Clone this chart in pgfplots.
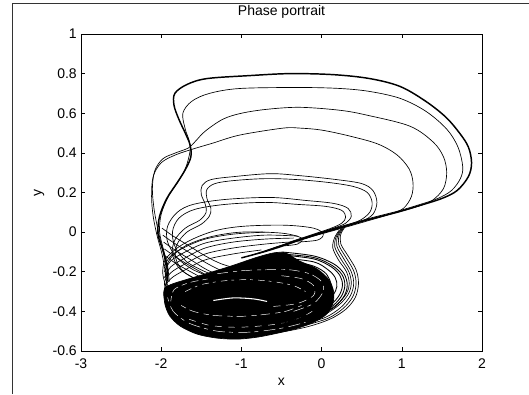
\documentclass[border=0pt]{standalone}
\usepackage{fontspec}
\setmainfont{Liberation Sans}
\usepackage{pgfplots}
\pgfplotsset{compat=1.18}
\pgfplotsset{
  traj/.style={black, line width=0.5pt, smooth, tension=0.55, mark=none},
  streak/.style={white, line width=0.35pt, smooth, mark=none},
}
\begin{document}
\begin{tikzpicture}
\useasboundingbox (-60.75pt,-32.25pt) rectangle (336pt,263.25pt);
\draw[line width=0.6pt, black!80] (-51.75pt,-32.25pt) -- (-51.75pt,261pt) -- (336pt,261pt);
\begin{axis}[
  at={(0,0)}, anchor=south west,
  scale only axis, width=300.75pt, height=237.75pt,
  xmin=-3, xmax=2, ymin=-0.6, ymax=1,
  xtick={-3,-2,-1,0,1,2},
  ytick={-0.6,-0.4,-0.2,0,0.2,0.4,0.6,0.8,1},
  xticklabels={-3,-2,-1,0,1,2},
  yticklabels={-0.6,-0.4,-0.2,0,0.2,0.4,0.6,0.8,1},
  tick align=inside, major tick length=3pt,
  tick style={black, line width=0.4pt},
  axis line style={black, line width=0.5pt},
  ticklabel style={font=\fontsize{10.5}{11}\selectfont},
  xticklabel style={anchor=base, yshift=-13pt},
  yticklabel style={anchor=east, inner sep=0pt, xshift=-3pt},
  title={Phase portrait},
  title style={font=\fontsize{10.5}{12}\selectfont, at={(0.5,1)}, anchor=base, yshift=8.25pt},
  xlabel={x},
  xlabel style={font=\fontsize{10.5}{12}\selectfont, at={(axis description cs:0.5,0)}, anchor=base, yshift=-25.5pt},
  ylabel={y},
  ylabel style={font=\fontsize{10.5}{12}\selectfont, at={(axis description cs:-0.1047,0.5)}, anchor=center},
]
% ---- outer loop A (bundle) ----
\addplot[traj, line width=1.1pt] coordinates {(-1.0,-0.13) (-0.64,-0.09) (-0.27,-0.04) (0.0,-0.005) (0.3,0.03) (0.6,0.065) (0.94,0.10) (1.23,0.135) (1.5,0.17) (1.69,0.21) (1.83,0.28) (1.87,0.35) (1.83,0.43) (1.72,0.50) (1.55,0.58) (1.3,0.66) (0.98,0.735) (0.6,0.775) (0.14,0.795) (-0.4,0.80) (-0.9,0.79) (-1.43,0.775) (-1.68,0.745) (-1.83,0.70) (-1.84,0.64) (-1.78,0.57) (-1.70,0.50) (-1.64,0.44) (-1.63,0.38) (-1.70,0.315) (-1.80,0.25) (-1.93,0.17) (-2.02,0.08) (-2.04,-0.01) (-1.98,-0.09) (-1.93,-0.17) (-1.92,-0.25)};
% ---- loop B ----
\addplot[traj] coordinates {(-0.9,-0.12) (-0.64,-0.085) (-0.27,-0.035) (0.0,0.0) (0.3,0.035) (0.6,0.07) (0.94,0.105) (1.23,0.14) (1.45,0.17) (1.62,0.21) (1.73,0.27) (1.76,0.33) (1.70,0.43) (1.56,0.52) (1.3,0.61) (0.98,0.675) (0.6,0.71) (0.23,0.725) (-0.27,0.73) (-1.02,0.725) (-1.4,0.70) (-1.62,0.66) (-1.73,0.60) (-1.70,0.52) (-1.65,0.46) (-1.64,0.41) (-1.69,0.33) (-1.78,0.26) (-1.91,0.18) (-2.0,0.09) (-2.02,0.0) (-1.97,-0.09) (-1.92,-0.17) (-1.9,-0.25)};
% ---- loop C ----
\addplot[traj] coordinates {(-0.8,-0.11) (-0.5,-0.07) (-0.27,-0.04) (0.0,-0.005) (0.3,0.03) (0.6,0.065) (0.94,0.10) (1.2,0.13) (1.38,0.16) (1.52,0.22) (1.56,0.30) (1.52,0.38) (1.39,0.455) (1.1,0.535) (0.57,0.59) (0.23,0.615) (-0.27,0.63) (-0.68,0.62) (-1.0,0.60) (-1.23,0.57) (-1.45,0.51) (-1.57,0.46) (-1.66,0.425) (-1.82,0.40) (-1.98,0.37) (-2.08,0.31) (-2.11,0.22) (-2.09,0.12) (-2.05,0.03) (-2.0,-0.06) (-1.95,-0.15) (-1.93,-0.24)};
% ---- loop D ----
\addplot[traj] coordinates {(-0.7,-0.095) (-0.4,-0.055) (-0.1,-0.02) (0.3,0.025) (0.6,0.06) (0.85,0.09) (1.02,0.12) (1.12,0.18) (1.14,0.25) (1.09,0.32) (0.94,0.39) (0.7,0.445) (0.35,0.485) (0.0,0.515) (-0.27,0.525) (-0.48,0.525) (-1.02,0.49) (-1.35,0.45) (-1.6,0.42) (-1.82,0.39) (-2.0,0.35) (-2.1,0.28) (-2.12,0.18) (-2.1,0.08) (-2.05,-0.02) (-1.99,-0.11) (-1.95,-0.2) (-1.93,-0.27)};
% ---- loop E ----
\addplot[traj] coordinates {(-0.6,-0.08) (-0.3,-0.04) (0.0,-0.005) (0.3,0.03) (0.5,0.055) (0.64,0.09) (0.69,0.15) (0.64,0.21) (0.5,0.245) (0.19,0.265) (-0.27,0.285) (-0.64,0.295) (-1.10,0.28) (-1.38,0.265) (-1.49,0.235) (-1.50,0.19) (-1.45,0.14) (-1.44,0.10) (-1.52,0.06) (-1.70,0.02) (-1.83,-0.04) (-1.86,-0.11) (-1.78,-0.18) (-1.6,-0.23) (-1.4,-0.26)};
\addplot[traj] coordinates {(-0.5,-0.07) (0.0,0.0) (0.3,0.035) (0.48,0.06) (0.60,0.10) (0.63,0.15) (0.57,0.20) (0.4,0.23) (0.1,0.25) (-0.3,0.265) (-0.7,0.27) (-1.1,0.26) (-1.33,0.245) (-1.43,0.215) (-1.43,0.17) (-1.38,0.12) (-1.40,0.08) (-1.5,0.04) (-1.68,0.0) (-1.8,-0.06) (-1.82,-0.13) (-1.72,-0.2) (-1.5,-0.25)};
% ---- loop F ----
\addplot[traj] coordinates {(-0.45,-0.06) (-0.1,-0.015) (0.15,0.02) (0.30,0.045) (0.37,0.08) (0.33,0.12) (0.15,0.145) (-0.2,0.16) (-0.64,0.175) (-1.2,0.165) (-1.6,0.14) (-1.80,0.10) (-1.92,0.03) (-1.92,-0.05) (-1.8,-0.13) (-1.6,-0.19) (-1.35,-0.23)};
\addplot[traj] coordinates {(-0.4,-0.05) (-0.1,-0.01) (0.12,0.02) (0.25,0.045) (0.30,0.075) (0.25,0.11) (0.05,0.13) (-0.3,0.14) (-0.7,0.15) (-1.2,0.14) (-1.58,0.115) (-1.78,0.07) (-1.86,0.0) (-1.82,-0.08) (-1.68,-0.15) (-1.45,-0.2) (-1.25,-0.23)};
% ---- loop G ----
\addplot[traj] coordinates {(-0.3,-0.05) (-0.05,-0.04) (0.02,-0.01) (-0.1,0.02) (-0.46,0.035) (-0.96,0.03) (-1.3,0.01) (-1.58,-0.03) (-1.8,-0.08) (-1.95,-0.14) (-1.98,-0.21) (-1.93,-0.28) (-1.85,-0.33)};
\addplot[traj] coordinates {(-0.5,-0.07) (-0.3,-0.06) (-0.25,-0.03) (-0.5,-0.005) (-1.0,0.0) (-1.4,-0.025) (-1.7,-0.07) (-1.88,-0.13) (-1.95,-0.2) (-1.92,-0.27)};
% ---- lattice: descending ----
\addplot[traj] coordinates {(-1.99,0.02) (-1.85,-0.02) (-1.65,-0.07) (-1.45,-0.12) (-1.25,-0.16) (-1.0,-0.19)};
\addplot[traj] coordinates {(-1.98,-0.015) (-1.84,-0.055) (-1.64,-0.105) (-1.44,-0.155) (-1.24,-0.195) (-1.0,-0.22)};
\addplot[traj] coordinates {(-1.97,-0.05) (-1.83,-0.09) (-1.63,-0.14) (-1.43,-0.19) (-1.23,-0.225)};
\addplot[traj] coordinates {(-1.96,-0.085) (-1.82,-0.125) (-1.62,-0.175) (-1.42,-0.22)};
\addplot[traj] coordinates {(-1.95,-0.12) (-1.81,-0.16) (-1.61,-0.205) (-1.45,-0.24)};
% ---- lattice: ascending ----
\addplot[traj] coordinates {(-1.88,-0.36) (-1.96,-0.29) (-1.88,-0.235) (-1.7,-0.19) (-1.45,-0.14) (-1.1,-0.11) (-0.75,-0.09)};
\addplot[traj] coordinates {(-1.88,-0.33) (-1.96,-0.26) (-1.88,-0.205) (-1.7,-0.16) (-1.45,-0.11) (-1.1,-0.08) (-0.7,-0.06) (-0.4,-0.05)};
\addplot[traj] coordinates {(-1.96,-0.23) (-1.88,-0.175) (-1.7,-0.13) (-1.45,-0.08) (-1.1,-0.05) (-0.7,-0.035) (-0.35,-0.03)};
\addplot[traj] coordinates {(-1.96,-0.20) (-1.88,-0.145) (-1.7,-0.10) (-1.45,-0.055) (-1.1,-0.03) (-0.7,-0.015) (-0.3,-0.02)};
\addplot[traj] coordinates {(-1.96,-0.17) (-1.88,-0.12) (-1.7,-0.075) (-1.45,-0.035) (-1.1,-0.01) (-0.7,0.0)};
% ---- dense core ----
\addplot[black, fill=black, line width=0.5pt, smooth, tension=0.5, mark=none] coordinates {(-1.97,-0.31) (-1.95,-0.37) (-1.89,-0.425) (-1.76,-0.475) (-1.55,-0.515) (-1.3,-0.535) (-1.05,-0.54) (-0.8,-0.53) (-0.55,-0.51) (-0.3,-0.485) (-0.1,-0.455) (0.06,-0.415) (0.14,-0.36) (0.15,-0.30) (0.09,-0.24) (-0.06,-0.185) (-0.28,-0.145) (-0.45,-0.105) (-0.6,-0.105) (-0.83,-0.13) (-1.12,-0.17) (-1.4,-0.205) (-1.65,-0.235) (-1.85,-0.26) (-1.95,-0.28) (-1.97,-0.31)} -- cycle;
% ---- light streaks inside core ----
\addplot[streak, line width=0.8pt] coordinates {(-1.35,-0.345) (-1.1,-0.332) (-0.85,-0.337) (-0.68,-0.35)};
\addplot[streak, dash pattern=on 5pt off 3pt on 2pt off 4pt] coordinates {(-1.7,-0.30) (-1.5,-0.265) (-1.2,-0.245) (-0.9,-0.24) (-0.6,-0.25) (-0.35,-0.27) (-0.2,-0.3)};
\addplot[streak, dash pattern=on 4pt off 3pt on 7pt off 4pt] coordinates {(-1.75,-0.37) (-1.6,-0.40) (-1.35,-0.42) (-1.0,-0.425) (-0.7,-0.415) (-0.45,-0.40) (-0.25,-0.37)};
\addplot[streak, dash pattern=on 8pt off 4pt on 3pt off 3pt] coordinates {(-1.3,-0.21) (-1.0,-0.195) (-0.7,-0.19) (-0.4,-0.19) (-0.15,-0.21) (0.0,-0.25) (0.02,-0.3) (-0.1,-0.36) (-0.35,-0.40)};
\addplot[streak, dash pattern=on 5pt off 5pt] coordinates {(-1.65,-0.44) (-1.4,-0.47) (-1.1,-0.48) (-0.8,-0.475) (-0.5,-0.46) (-0.25,-0.43) (-0.08,-0.39)};
\addplot[streak, dash pattern=on 4pt off 3pt on 6pt off 3pt] coordinates {(-1.88,-0.35) (-1.84,-0.29) (-1.65,-0.255) (-1.4,-0.235)};
\addplot[streak, dash pattern=on 6pt off 4pt] coordinates {(-0.5,-0.22) (-0.25,-0.235) (-0.1,-0.27) (-0.1,-0.32) (-0.3,-0.36) (-0.6,-0.375)};
\addplot[streak, dash pattern=on 3pt off 4pt on 9pt off 3pt] coordinates {(-1.92,-0.33) (-1.85,-0.40) (-1.65,-0.46) (-1.3,-0.50) (-0.9,-0.505) (-0.5,-0.485) (-0.2,-0.455)};
% ---- outer rings on right of core ----
\addplot[traj, line width=0.65pt] coordinates {(-0.5,-0.10) (-0.1,-0.12) (0.15,-0.16) (0.28,-0.21) (0.32,-0.27) (0.27,-0.33) (0.12,-0.39) (-0.15,-0.43) (-0.5,-0.46)};
\addplot[traj, line width=0.65pt] coordinates {(-0.5,-0.11) (-0.1,-0.128) (0.13,-0.168) (0.255,-0.215) (0.29,-0.27) (0.24,-0.328) (0.095,-0.385) (-0.16,-0.425) (-0.5,-0.455)};
\addplot[traj, line width=0.65pt] coordinates {(-0.5,-0.115) (-0.1,-0.135) (0.12,-0.175) (0.23,-0.22) (0.26,-0.27) (0.21,-0.325) (0.07,-0.38) (-0.18,-0.42) (-0.5,-0.45)};
\addplot[traj, line width=0.65pt] coordinates {(-0.5,-0.13) (-0.1,-0.15) (0.08,-0.19) (0.17,-0.23) (0.19,-0.275) (0.14,-0.32) (0.01,-0.37) (-0.22,-0.41) (-0.5,-0.44)};
\addplot[traj, line width=0.65pt] coordinates {(-0.5,-0.145) (-0.15,-0.165) (0.03,-0.2) (0.10,-0.24) (0.12,-0.28) (0.07,-0.32) (-0.05,-0.36) (-0.25,-0.40) (-0.5,-0.43)};
% ---- S-shaped outer strands ----
\addplot[traj] coordinates {(0.30,0.03) (0.24,-0.01) (0.24,-0.06) (0.33,-0.12) (0.43,-0.19) (0.46,-0.26) (0.42,-0.33) (0.30,-0.39) (0.10,-0.44) (-0.2,-0.48) (-0.6,-0.51) (-1.0,-0.52)};
\addplot[traj] coordinates {(0.28,0.025) (0.22,-0.015) (0.215,-0.065) (0.30,-0.125) (0.40,-0.195) (0.43,-0.26) (0.39,-0.325) (0.27,-0.385) (0.08,-0.435) (-0.2,-0.47)};
\addplot[traj] coordinates {(0.26,0.02) (0.20,-0.02) (0.19,-0.07) (0.27,-0.13) (0.37,-0.20) (0.40,-0.26) (0.36,-0.32) (0.24,-0.38) (0.05,-0.43) (-0.2,-0.46)};
\addplot[traj] coordinates {(0.24,0.015) (0.18,-0.025) (0.165,-0.075) (0.24,-0.135) (0.34,-0.2) (0.37,-0.26) (0.33,-0.315) (0.21,-0.37) (0.02,-0.42) (-0.2,-0.45)};
\addplot[traj] coordinates {(0.22,0.01) (0.16,-0.03) (0.14,-0.08) (0.21,-0.14) (0.31,-0.2) (0.345,-0.26) (0.31,-0.31) (0.19,-0.365) (0.0,-0.415) (-0.2,-0.445)};
\end{axis}
\end{tikzpicture}
\end{document}
